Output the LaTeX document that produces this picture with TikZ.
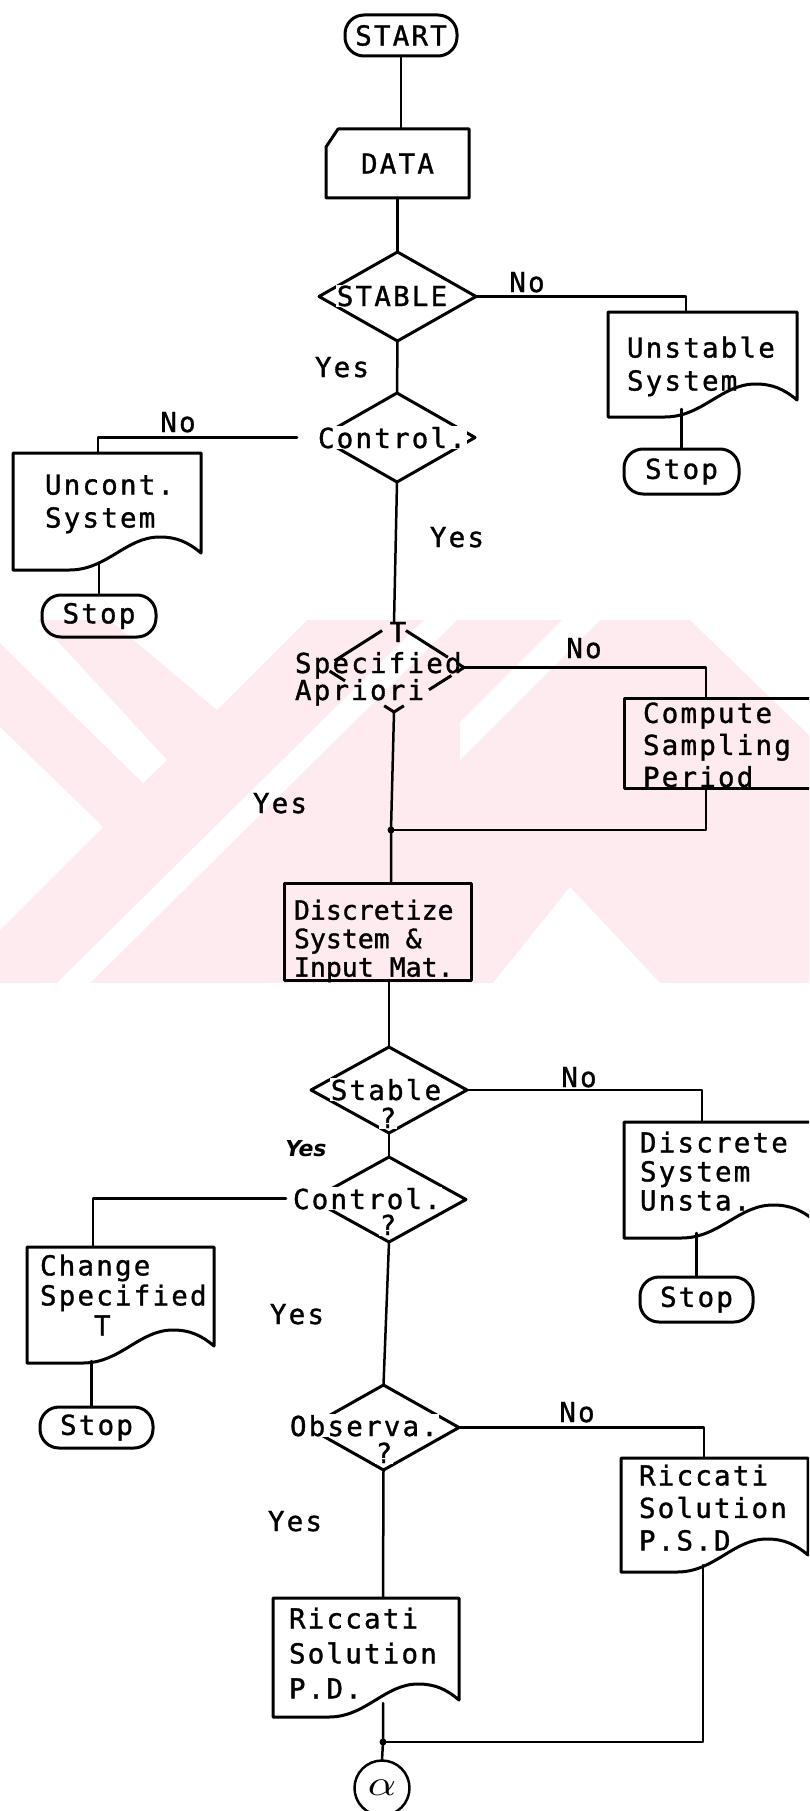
\documentclass[tikz,border=0pt]{standalone}
\usepackage{fontspec}
\usepackage{graphicx}
\usetikzlibrary{shapes.geometric,calc}
\newfontfamily\tw[LetterSpace=8,FakeBold=1.2]{DejaVu Sans Mono}
\newfontfamily\twn[FakeBold=1.2]{DejaVu Sans Mono}
\newfontfamily\hand{DejaVu Sans}
\definecolor{wm}{RGB}{253,235,239}
\newcommand\mainf{\tw\fontsize{27.5pt}{31pt}\selectfont}
\newcommand\drawdoc[1]{%
  \draw[sl] let \p1=(#1.south west), \p2=(#1.north east), \n1={\x2-\x1} in
    (\x1,\y1) -- (\x1,\y2) -- (\x2,\y2) -- (\x2,\y1+17pt)
    .. controls (\x2-0.07*\n1,\y1+28pt) and (\x2-0.13*\n1,\y1+33pt) .. (\x1+0.78*\n1,\y1+33pt)
    .. controls (\x1+0.6*\n1,\y1+33pt) and (\x1+0.5*\n1,\y1) .. (\x1+0.3*\n1,\y1)
    -- cycle;}
\begin{document}
\begin{tikzpicture}[x=1pt,y=-1pt,
  every node/.style={inner sep=0pt, outer sep=0pt},
  ln/.style={line width=2.5pt, line cap=round, line join=round},
  sl/.style={line width=3pt, line join=round},
  term/.style={draw, sl, rounded corners=19pt, font=\mainf},
  dia/.style={shape=diamond, draw, sl, minimum width=#1},
  box/.style={draw, sl},
  docbox/.style={draw=none},
  lbl/.style={font=\mainf},
  wlbl/.style={font=\mainf, fill=white, inner sep=1pt},
  txt/.style={align=left, anchor=north west}
]
\clip (0,0) rectangle (809,1811);
% watermark
\fill[wm] (0,620) rectangle (809,983);
\fill[white] (0,620) -- (38,620) -- (167,760) -- (143,783) -- (0,643) -- cycle;
\fill[white] (110,620) -- (217,710) -- (307,620) -- cycle;
\fill[white] (0,727) -- (103,827) -- (0,930) -- cycle;
\fill[white] (57,983) -- (424,620) -- (457,620) -- (90,983) -- cycle;
\fill[white] (493,983) -- (570,887) -- (660,983) -- cycle;
\fill[white] (460,722) -- (562,620) -- (600,620) -- (460,760) -- cycle;
\fill[white] (690,620) -- (809,620) -- (809,735) -- cycle;

% START and DATA
\node[term, minimum width=112pt, minimum height=41pt] (start) at (401,35.5) {START};
\node[docbox, minimum width=143pt, minimum height=69pt, font=\mainf] (data) at (397.5,163.5) {DATA};
\draw[sl] (data.south west) -- ([yshift=-18pt]data.north west) -- ([xshift=12pt]data.north west) -- (data.north east) -- (data.south east) -- cycle;
\draw[ln] (start.south) -- (start.south |- data.north);

% STABLE
\node[dia=157pt, minimum height=89pt] (d1) at (397.5,296.5) {};
\node[wlbl, anchor=base] (d1t) at (392,306) {STABLE};
\draw[ln] (data.south) -- (d1.north);
\node[docbox, minimum width=189pt, minimum height=105pt] (unst) at (702.5,364.5) {};
\drawdoc{unst}
\node[txt, font={\tw\fontsize{27.5pt}{33pt}\selectfont}] (unstt) at (627,336.5) {Unstable\\System};
\draw[ln] (d1.east) -| ([xshift=-16.5pt]unst.north);
\node[lbl, anchor=base] (no1) at (527,292) {No};
\node[term, minimum width=115pt, minimum height=45pt] (stop1) at (681.5,471.5) {Stop};
\draw[ln] (stop1.north) -- ([yshift=8pt]stop1.north |- unst.south);
\node[lbl, anchor=base] (yes1) at (342,377) {Yes};

% Control (1)
\node[dia=156pt, minimum height=89pt] (d2) at (397,437.5) {};
\node[wlbl, anchor=base west] (d2t) at (317,448) {Control.};
\draw[ln] (d1.south) -- (d2.north);
\node[docbox, minimum width=188pt, minimum height=117pt] (unc) at (107,511.5) {};
\drawdoc{unc}
\node[txt, font={\tw\fontsize{27.5pt}{33pt}\selectfont}] (unct) at (45,474.5) {Uncont.\\System};
\draw[ln] ([xshift=-20pt]d2t.west) -| ([xshift=-9pt]unc.north);
\node[lbl, anchor=base] (no2) at (178,432) {No};
\node[term, minimum width=114pt, minimum height=42pt] (stop2) at (99,616) {Stop};
\draw[ln] (stop2.north) -- ([yshift=7pt]stop2.north |- unc.south);
\node[lbl, anchor=base] (yes2) at (457,547) {Yes};

% T Specified Apriori
\node[shape=diamond, draw=none, minimum width=140pt, minimum height=89pt] (d3) at (394,667.5) {};
\draw[sl] ($(d3.north)!0.17!(d3.west)$) -- ($(d3.north)!0.85!(d3.west)$);
\draw[sl] ($(d3.north)!0.17!(d3.east)$) -- ($(d3.north)!0.77!(d3.east)$);
\draw[sl] ($(d3.north)!0.9!(d3.east)$) -- (d3.east) -- ($(d3.east)!0.08!(d3.south)$);
\draw[sl] ($(d3.east)!0.18!(d3.south)$) -- ($(d3.east)!0.5!(d3.south)$);
\draw[sl] ($(d3.west)!0.08!(d3.south)$) -- ($(d3.west)!0.3!(d3.south)$);
\draw[sl] ($(d3.west)!0.86!(d3.south)$) -- (d3.south) -- ($(d3.east)!0.86!(d3.south)$);
\node[lbl, anchor=base] (d3a) at (398,642) {T};
\node[lbl, anchor=base west] (d3b) at (295,673) {Specified};
\node[lbl, anchor=base west] (d3c) at (295,700) {Apriori};
\draw[ln] (d2.south) -- (d3.north);
\node[box, minimum width=206pt, minimum height=90pt] (comp) at (727,743) {};
\node[txt, font={\tw\fontsize{27.5pt}{32pt}\selectfont}] (compt) at (643,702.5) {Compute\\Sampling\\Period};
\draw[ln] (d3.east) -| ([xshift=-21pt]comp.north);
\node[lbl, anchor=base] (no3) at (584,658) {No};
\node[lbl, anchor=base] (yes3) at (280,813) {Yes};
\coordinate (j1) at (391,830);
\node[box, minimum width=187pt, minimum height=97pt] (disc) at (377.5,931.5) {};
\node[txt, font={\twn\fontsize{26.5pt}{28.5pt}\selectfont}] (disct) at (294,899.5) {Discretize\\System \&\\Input Mat.};
\draw[ln] (d3.south) -- (j1) -- (j1 |- disc.north);
\draw[ln] ([xshift=-21pt]comp.south) |- (j1);
\fill (j1) circle (3.5pt);

% Stable ?
\node[dia=156pt, minimum height=86pt] (d4) at (389,1090) {};
\node[wlbl, anchor=base] (d4t) at (386,1100) {Stable};
\node[wlbl, anchor=base] (d4q) at (388,1128) {?};
\draw[ln] (disc.south -| d4.north) -- (d4.north);
\node[docbox, minimum width=191pt, minimum height=116pt] (dsu) at (719.5,1180) {};
\drawdoc{dsu}
\node[txt, font={\tw\fontsize{27.5pt}{29pt}\selectfont}] (dsut) at (640,1131.5) {Discrete\\System\\Unsta.};
\draw[ln] (d4.east) -| ([xshift=-17.5pt]dsu.north);
\node[lbl, anchor=base] (no4) at (579,1087) {No};
\node[term, minimum width=113pt, minimum height=45pt] (stop3) at (696.5,1299.5) {Stop};
\draw[ln] (stop3.north) -- ([yshift=5pt]stop3.north |- dsu.south);
\node[font=\hand\bfseries\itshape\fontsize{22pt}{22pt}\selectfont, anchor=base] (yes4) at (306,1156) {Yes};

% Control ?
\node[dia=154pt, minimum height=85pt] (d5) at (389,1199.5) {};
\node[wlbl, anchor=base west] (d5t) at (292,1209) {Control.};
\node[wlbl, anchor=base] (d5q) at (388,1235) {?};
\draw[ln] (d4.south) -- (d5.north);
\node[docbox, minimum width=187pt, minimum height=116pt] (chg) at (120.5,1305) {};
\drawdoc{chg}
\node[txt, font={\tw\fontsize{27.5pt}{30pt}\selectfont}] (chgt) at (40,1254.5) {Change\\Specified\\\phantom{Spe}T};
\draw[ln] ([xshift=-6pt]d5t.west) -| ([xshift=-27.5pt]chg.north);
\node[term, minimum width=113pt, minimum height=41pt] (stop4) at (96.5,1427.5) {Stop};
\draw[ln] ([xshift=-5pt]stop4.north) -- ([xshift=-5pt,yshift=2pt]stop4.north |- chg.south);
\node[lbl, anchor=base] (yes5) at (297,1324) {Yes};

% Observa ?
\node[dia=151pt, minimum height=85pt] (d6) at (383.5,1427.5) {};
\node[wlbl, anchor=base west] (d6t) at (289,1436) {Observa.};
\node[wlbl, anchor=base] (d6q) at (384,1463) {?};
\draw[ln] (d5.south) -- (d6.north);
\node[docbox, minimum width=187pt, minimum height=114pt] (psd) at (714.5,1515) {};
\drawdoc{psd}
\node[txt, font={\tw\fontsize{27.5pt}{32.5pt}\selectfont}] (psdt) at (639,1464.5) {Riccati\\Solution\\P.S.D};
\draw[ln] (d6.east) -| ([xshift=-10.5pt]psd.north);
\node[lbl, anchor=base] (no5) at (577,1422) {No};
\node[lbl, anchor=base] (yes6) at (295,1531) {Yes};
\node[docbox, minimum width=186pt, minimum height=119pt] (pd) at (366,1657.5) {};
\drawdoc{pd}
\node[txt, font={\tw\fontsize{27.5pt}{35pt}\selectfont}] (pdt) at (289,1607.5) {Riccati\\Solution\\P.D.};
\draw[ln] (d6.south) -- ([xshift=17pt]pd.north);

% merge and connector
\coordinate (j2) at (383,1742);
\node[draw, ln, circle, minimum size=55pt] (alpha) at (382,1788) {\scalebox{4.4}[3.6]{$\alpha$}};
\draw[ln] ([xshift=-11.5pt,yshift=7pt]psd.south) |- (j2);
\draw[ln] ([xshift=17pt,yshift=14pt]pd.south) -- (j2) -- (alpha.north);
\fill (j2) circle (3.5pt);
\end{tikzpicture}
\end{document}
